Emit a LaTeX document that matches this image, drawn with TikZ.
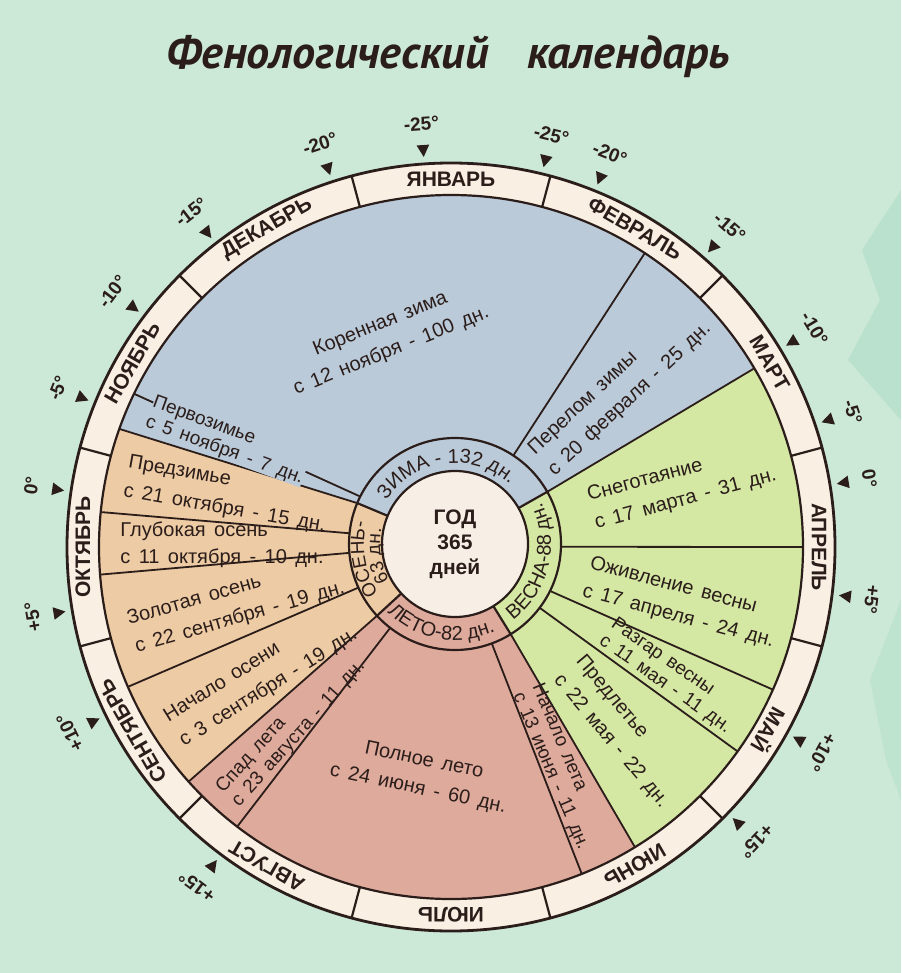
\documentclass[tikz,border=0pt]{standalone}
\usepackage{fontspec}
\setmainfont{Liberation Sans}
\newfontfamily\titlefont{PT Sans}
\usetikzlibrary{calc,decorations.text}

\definecolor{mintbg}{HTML}{CCE8D6}
\definecolor{tealpatch}{HTML}{A9DCC5}
\definecolor{wintercol}{HTML}{BACAD9}
\definecolor{springcol}{HTML}{D4E7A3}
\definecolor{summercol}{HTML}{DEAA9C}
\definecolor{autumncol}{HTML}{EDCBA4}
\definecolor{ringcream}{HTML}{F9EFE3}
\definecolor{disccream}{HTML}{F7EFE6}
\definecolor{inkbrown}{HTML}{2B1D1A}

\newcommand\seasonfont{\fontsize{20}{24}\selectfont\color{inkbrown}}
\newcommand\autumnfont{\fontsize{19}{22}\selectfont\color{inkbrown}}
\newcommand\widespaces{\spaceskip 0.42em\relax}

\tikzset{
  monthlabel/.style={font=\fontsize{21}{24}\selectfont\bfseries, text=inkbrown, inner sep=0pt},
  templabel/.style={font=\fontsize{19}{22}\selectfont\bfseries, text=inkbrown, inner sep=0pt},
  periodlabel/.style={font=\fontsize{20}{29}\selectfont\widespaces, text=inkbrown, align=left, inner sep=0pt},
  smalllabel/.style={periodlabel, font=\fontsize{19}{21}\selectfont\widespaces},
  ringline/.style={draw=inkbrown, line width=2.2pt},
  periodline/.style={draw=inkbrown, line width=1.8pt},
  seasontext/.style={decorate, decoration={text along path, text align=center, text={#1}}},
}

\begin{document}
\begin{tikzpicture}[x=1pt,y=-1pt,line join=round]
  % Page frame of the scan, background first.
  \useasboundingbox (0,0) rectangle (901,973);
  \fill[mintbg] (0,0) rectangle (901,973);
  % Darker teal stains along the right edge of the sheet.
  \fill[tealpatch, opacity=0.5] (901,190) -- (862,250) -- (880,300) -- (848,360) -- (901,420) -- cycle;
  \fill[tealpatch, opacity=0.4] (901,600) -- (870,680) -- (886,760) -- (901,800) -- cycle;

  % Dial centre and year-disc centre (the disc sits slightly off).
  \coordinate (c) at (451,547);
  \coordinate (ci) at (455,544);

  % Season sectors, angles run clockwise on the page.
  \fill[wintercol] (ci) -- ($(ci)+(202.7:106)$) -- ($(c)+(199.6:352)$)
    arc[start angle=199.6, end angle=329.5, radius=352] -- ($(ci)+(330.5:106)$) -- cycle;
  \fill[springcol] (ci) -- ($(ci)+(-29.5:106)$) -- ($(c)+(-30.5:352)$)
    arc[start angle=-30.5, end angle=58.5, radius=352] -- ($(ci)+(58.3:106)$) -- cycle;
  \fill[summercol] (ci) -- ($(ci)+(58.3:106)$) -- ($(c)+(58.5:352)$)
    arc[start angle=58.5, end angle=138.2, radius=352] -- ($(ci)+(137.4:106)$) -- cycle;
  \fill[autumncol] (ci) -- ($(ci)+(137.4:106)$) -- ($(c)+(138.2:352)$)
    arc[start angle=138.2, end angle=199.6, radius=352] -- ($(ci)+(202.7:106)$) -- cycle;

  % Month ring and year disc.
  \fill[ringcream, even odd rule] (c) circle[radius=384] (c) circle[radius=352];
  \fill[disccream] (ci) circle[radius=73];

  % Borders between the phenological periods.
  \foreach \ai/\ao in {-56.6/-56.6, -29.5/-30.5, 1.5/0, 26.3/23.9, 37/35.5,
      58.3/58.5, 69.7/68.2, 127.7/127.4, 137.4/138.2, 155.7/156.6,
      175.2/175.5, 185.8/185.7, 202.7/199.6, 206.6/205.8}
    \draw[periodline] ($(ci)+(\ai:106)$) -- ($(c)+(\ao:352)$);

  % Season ring.
  \draw[ringline] (ci) circle[radius=73];
  \draw[ringline] (ci) circle[radius=106];
  \foreach \a in {-29.5,58.3,137.4,202.7}
    \draw[ringline] ($(ci)+(\a:73)$) -- ($(ci)+(\a:106)$);

  % Month ring outline and month borders.
  \draw[ringline] (c) circle[radius=352];
  \draw[inkbrown, line width=2.8pt] (c) circle[radius=384];
  \foreach \b in {-75,-45,...,255}
    \draw[ringline] ($(c)+(\b:352)$) -- ($(c)+(\b:384)$);

  % Month names, January at the top.
  \foreach \m [count=\i from 0] in {ЯНВАРЬ,ФЕВРАЛЬ,МАРТ,АПРЕЛЬ,МАЙ,ИЮНЬ,
      ИЮЛЬ,АВГУСТ,СЕНТЯБРЬ,ОКТЯБРЬ,НОЯБРЬ,ДЕКАБРЬ}
    \node[monthlabel, rotate=-30*\i] (m\i) at ($(c)+({-90+30*\i}:368)$) {\m};

  % Mean temperature marks outside the dial.
  \foreach \a/\t [count=\i] in {-94/-25, -76.3/-25, -108/-20, -68/-20,
      -127.8/-15, -48.9/-15, -143/-10, -31/-10, -158/-5, -18.6/-5,
      -171.7/0, -9.3/0, 170.5/+5, 7.1/+5, 154/+10, 29/+10, 126.8/+15, 43.9/+15}{
    \fill[inkbrown] ($(c)+({\a-0.9}:403)$) -- ($(c)+(\a:391)$) -- ($(c)+({\a+0.9}:403)$) -- cycle;
    \node[templabel, rotate={-1*(\a)-90}] (t\i) at ($(c)+(\a:424)$) {\t°};
  }

  % Season names along the ring.
  \path[seasontext={|\seasonfont|ЗИМА - 132 дн.}]
    ($(ci)+(-157.5:81)$) arc[start angle=-157.5, end angle=-37.5, radius=81];
  \path[seasontext={|\seasonfont|ВЕСНА-88 дн.}]
    ($(ci)+(68.5:96)$) arc[start angle=68.5, end angle=-41.5, radius=96];
  \path[seasontext={|\seasonfont|ЛЕТО-82 дн.}]
    ($(ci)+(150:96)$) arc[start angle=150, end angle=50, radius=96];
  \path[seasontext={|\autumnfont|ОСЕНЬ-}]
    ($(ci)+(130:91)$) arc[start angle=130, end angle=211, radius=91];
  \path[seasontext={|\autumnfont|63 дн.}]
    ($(ci)+(140:75)$) arc[start angle=140, end angle=203, radius=75];

  % Year disc.
  \node[font=\fontsize{21}{25}\selectfont\bfseries, text=inkbrown, align=center]
    (year) at (ci) {ГОД\\365\\дней};

  % Period labels.
  \node[periodlabel, align=center, rotate=22] (korzima) at (386,338) {Коренная зима\\с 12 ноября - 100 дн.};
  \node[periodlabel, rotate=43] (perelom) at (620,389) {Перелом зимы\\с 20 февраля - 25 дн.};
  \node[periodlabel, rotate=15] (snegot) at (682,486) {Снеготаяние\\с 17 марта - 31 дн.};
  \node[periodlabel, rotate=-15] (ozhivl) at (682,603) {Оживление весны\\с 17 апреля - 24 дн.};
  \node[smalllabel, rotate=-35] (razgar) at (671,676) {Разгар весны\\с 11 мая - 11 дн.};
  \node[periodlabel, rotate=-50] (predlet) at (622,732) {Предлетье\\с 22 мая - 22 дн.};
  \node[smalllabel, rotate=-67] (nachleta) at (560,767) {Начало лета\\с 13 июня - 11 дн.};
  \node[periodlabel, align=center, rotate=-12] (polnleto) at (421,775) {Полное лето\\с 24 июня - 60 дн.};
  \node[smalllabel, rotate=48] (spad) at (291,727) {Спад лета\\с 23 августа - 11 дн.};
  \node[periodlabel, rotate=32] (nachosen) at (261,676) {Начало осени\\с 3 сентября - 19 дн.};
  \node[periodlabel, rotate=16] (zolot) at (236,604) {Золотая осень\\с 22 сентября - 19 дн.};
  \node[periodlabel, font=\fontsize{20}{27}\selectfont\widespaces] (glub) at (222,545) {Глубокая осень\\с 11 октября - 10 дн.};
  \node[periodlabel, rotate=-10] (predzim) at (227,495) {Предзимье\\с 21 октября - 15 дн.};
  \node[smalllabel, fill=wintercol, rotate=-20] (pervoz) at (228,441) {Первозимье\\с 5 ноября - 7 дн.};

  % Title.
  \node[font=\titlefont\fontsize{46}{50}\selectfont\bfseries\itshape, text=inkbrown]
    (title) at (448,57) {Фенологический\hspace{38pt}календарь};
\end{tikzpicture}
\end{document}
